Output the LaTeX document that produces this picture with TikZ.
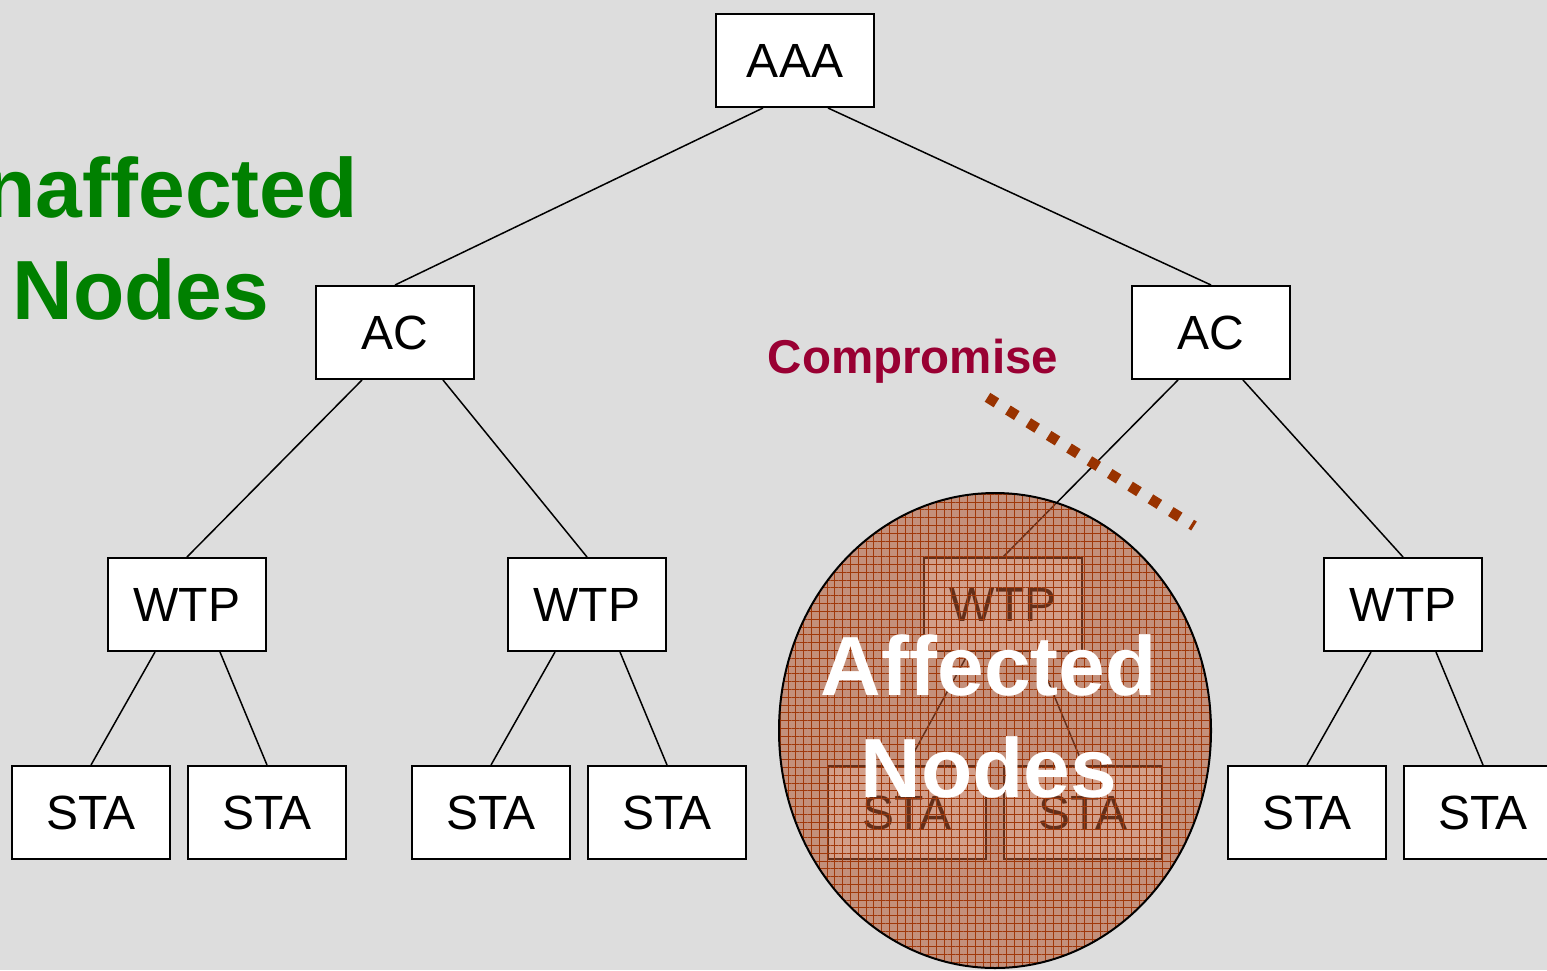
\documentclass[tikz,border=0pt]{standalone}
\usepackage{fontspec}
\setmainfont{Liberation Sans}
\usetikzlibrary{patterns.meta}
\definecolor{bg}{HTML}{DDDDDD}
\definecolor{okgreen}{HTML}{008000}
\definecolor{crimson}{HTML}{990033}
\definecolor{rust}{HTML}{993300}
\definecolor{burnt}{RGB}{178,84,48}
\definecolor{gridline}{HTML}{A0380A}

\begin{document}
\begin{tikzpicture}[x=1pt,y=-1pt,
  box/.style={draw=black, line width=2pt, fill=white,
    minimum width=158pt, minimum height=93pt, inner sep=0pt,
    font=\fontsize{48}{58}\selectfont},
  link/.style={draw=black, line width=1.5pt},
  big/.style={font=\fontsize{84}{102}\selectfont\bfseries,
    align=center, inner sep=0pt, anchor=south},
  cut/.style={draw=rust, line width=10.5pt, dash pattern=on 10.5pt off 13.5pt}]

% canvas
\fill[bg] (0,0) rectangle (1547,970);
\useasboundingbox (0,0) rectangle (1547,970);
\clip (0,0) rectangle (1547,970);

% tree nodes
\node[box] (aaa) at (795,60.5) {AAA};
\node[box] (ac1) at (395,332.5) {AC};
\node[box] (ac2) at (1211,332.5) {AC};
\node[box] (w1) at (187,604.5) {WTP};
\node[box] (w2) at (587,604.5) {WTP};
\node[box] (w3) at (1003,604.5) {WTP};
\node[box] (w4) at (1403,604.5) {WTP};
\node[box] (s1) at (91,812.5) {STA};
\node[box] (s2) at (267,812.5) {STA};
\node[box] (s3) at (491,812.5) {STA};
\node[box] (s4) at (667,812.5) {STA};
\node[box] (s5) at (907,812.5) {STA};
\node[box] (s6) at (1083,812.5) {STA};
\node[box] (s7) at (1307,812.5) {STA};
\node[box] (s8) at (1483,812.5) {STA};

% tree links
\draw[link] ([xshift=-32pt]aaa.south) -- (ac1.north);
\draw[link] ([xshift=33pt]aaa.south) -- (ac2.north);
\draw[link] ([xshift=-33pt]ac1.south) -- (w1.north);
\draw[link] ([xshift=48pt]ac1.south) -- (w2.north);
\draw[link] ([xshift=-33pt]ac2.south) -- (w3.north);
\draw[link] ([xshift=32pt]ac2.south) -- (w4.north);
\draw[link] ([xshift=-32pt]w1.south) -- (s1.north);
\draw[link] ([xshift=33pt]w1.south) -- (s2.north);
\draw[link] ([xshift=-32pt]w2.south) -- (s3.north);
\draw[link] ([xshift=33pt]w2.south) -- (s4.north);
\draw[link] ([xshift=-34pt]w3.south) -- (s5.north);
\draw[link] ([xshift=33pt]w3.south) -- (s6.north);
\draw[link] ([xshift=-32pt]w4.south) -- (s7.north);
\draw[link] ([xshift=33pt]w4.south) -- (s8.north);

% compromised region: tinted veil with a fine grid
\fill[burnt, fill opacity=0.56] (995,730.5) ellipse [x radius=216, y radius=237.5];
\fill[pattern={Lines[distance=7.8pt,angle=0,line width=0.6pt]}, pattern color=gridline, fill opacity=0.45]
  (995,730.5) ellipse [x radius=216, y radius=237.5];
\fill[pattern={Lines[distance=7.8pt,angle=90,line width=0.6pt]}, pattern color=gridline, fill opacity=0.45]
  (995,730.5) ellipse [x radius=216, y radius=237.5];
\draw[black, line width=2pt] (995,730.5) ellipse [x radius=216, y radius=237.5];

% compromise cut
\coordinate (cmpA) at (987.5,397.3);
\coordinate (cmpB) at (1194,526);
\draw[cut] (cmpA) -- (cmpB);

% labels
\node[font=\fontsize{47.5}{56}\selectfont\bfseries, text=crimson, anchor=base, inner sep=0pt]
  (cmp) at (913,373) {Compromise};
\node[big, text=okgreen] (unaff) at (141,321) {Unaffected\\Nodes};
\node[big, text=white] (aff) at (989,799) {Affected\\Nodes};
\end{tikzpicture}
\end{document}
